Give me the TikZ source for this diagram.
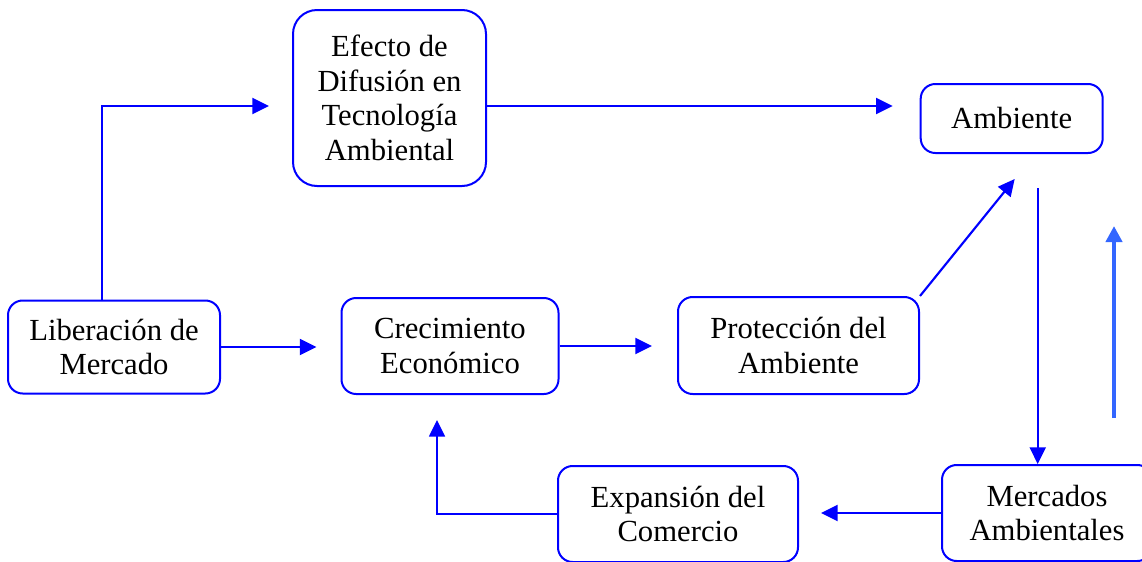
\documentclass[tikz,border=0pt]{standalone}
\usepackage{fontspec}
\setmainfont{Liberation Serif}
\usetikzlibrary{arrows.meta,calc}

\definecolor{boxblue}{RGB}{0,0,255}
\definecolor{upblue}{RGB}{51,102,255}

\tikzset{every picture/.style={line width=0.75pt}}
\tikzset{
  blk/.style={draw=boxblue, line width=1.5pt, rounded corners=11pt, align=center,
    inner sep=0pt, font=\fontsize{23}{26}\selectfont},
  arr/.style={draw=boxblue, line width=1.6pt, -{Triangle[length=12.5pt,width=12pt]}},
  uparr/.style={draw=upblue, line width=3pt, -{Triangle[length=12pt,width=12pt]}},
}

\begin{document}
\begin{tikzpicture}[x=0.75pt,y=0.75pt,yscale=-1,xscale=1]
\useasboundingbox (0,0) rectangle (1142,561);

%Shape: Rounded Rect
\node[blk, rounded corners=18pt, minimum width=144.75pt, minimum height=132pt] (efecto) at (389.5,98) {Efecto de\\Difusión en\\Tecnología\\Ambiental};
%Shape: Rounded Rect
\node[blk, minimum width=136.5pt, minimum height=51.75pt] (ambiente) at (1011.7,118.5) {Ambiente};
%Shape: Rounded Rect
\node[blk, minimum width=159pt, minimum height=69.75pt] (liberacion) at (114,347) {Liberación de\\Mercado};
%Shape: Rounded Rect
\node[blk, minimum width=162.75pt, minimum height=72pt] (crecimiento) at (450,346) {Crecimiento\\Económico};
%Shape: Rounded Rect
\node[blk, minimum width=180.75pt, minimum height=72.75pt] (proteccion) at (798.5,345.5) {Protección del\\Ambiente};
%Shape: Rounded Rect
\node[blk, minimum width=180pt, minimum height=72pt] (expansion) at (678,514) {Expansión del\\Comercio};
%Shape: Rounded Rect
\node[blk, minimum width=157.5pt, minimum height=72pt] (mercados) at (1047,513) {Mercados\\Ambientales};

%Straight Lines
\draw[arr] ($(liberacion.north)+(-12,0)$) |- ($(efecto.west)+(-23,8)$);
\draw[arr] ($(efecto.east)+(0,8)$) -- ($(ambiente.west |- efecto.east)+(-27,8)$);
\draw[arr, shorten >=18pt] (liberacion.east) -- (liberacion.east -| crecimiento.west);
\draw[arr, shorten >=18.75pt] (crecimiento.east) -- (crecimiento.east -| proteccion.west);
\draw[arr] (proteccion.north east) -- ($(ambiente.south)+(3,25)$);
\draw[arr] ($(ambiente.south)+(26,34)$) coordinate (down) -- (down |- mercados.north);
\draw[arr, shorten >=16.5pt] (mercados.west) -- (mercados.west -| expansion.east);
\draw[arr, line width=1.2pt] (expansion.west) -| ($(crecimiento.south)+(-13,25)$);

%Straight Lines (free)
\coordinate (upstart) at (1114,418);
\coordinate (upend) at (1114,226);
\draw[uparr] (upstart) -- (upend);

\end{tikzpicture}
\end{document}
